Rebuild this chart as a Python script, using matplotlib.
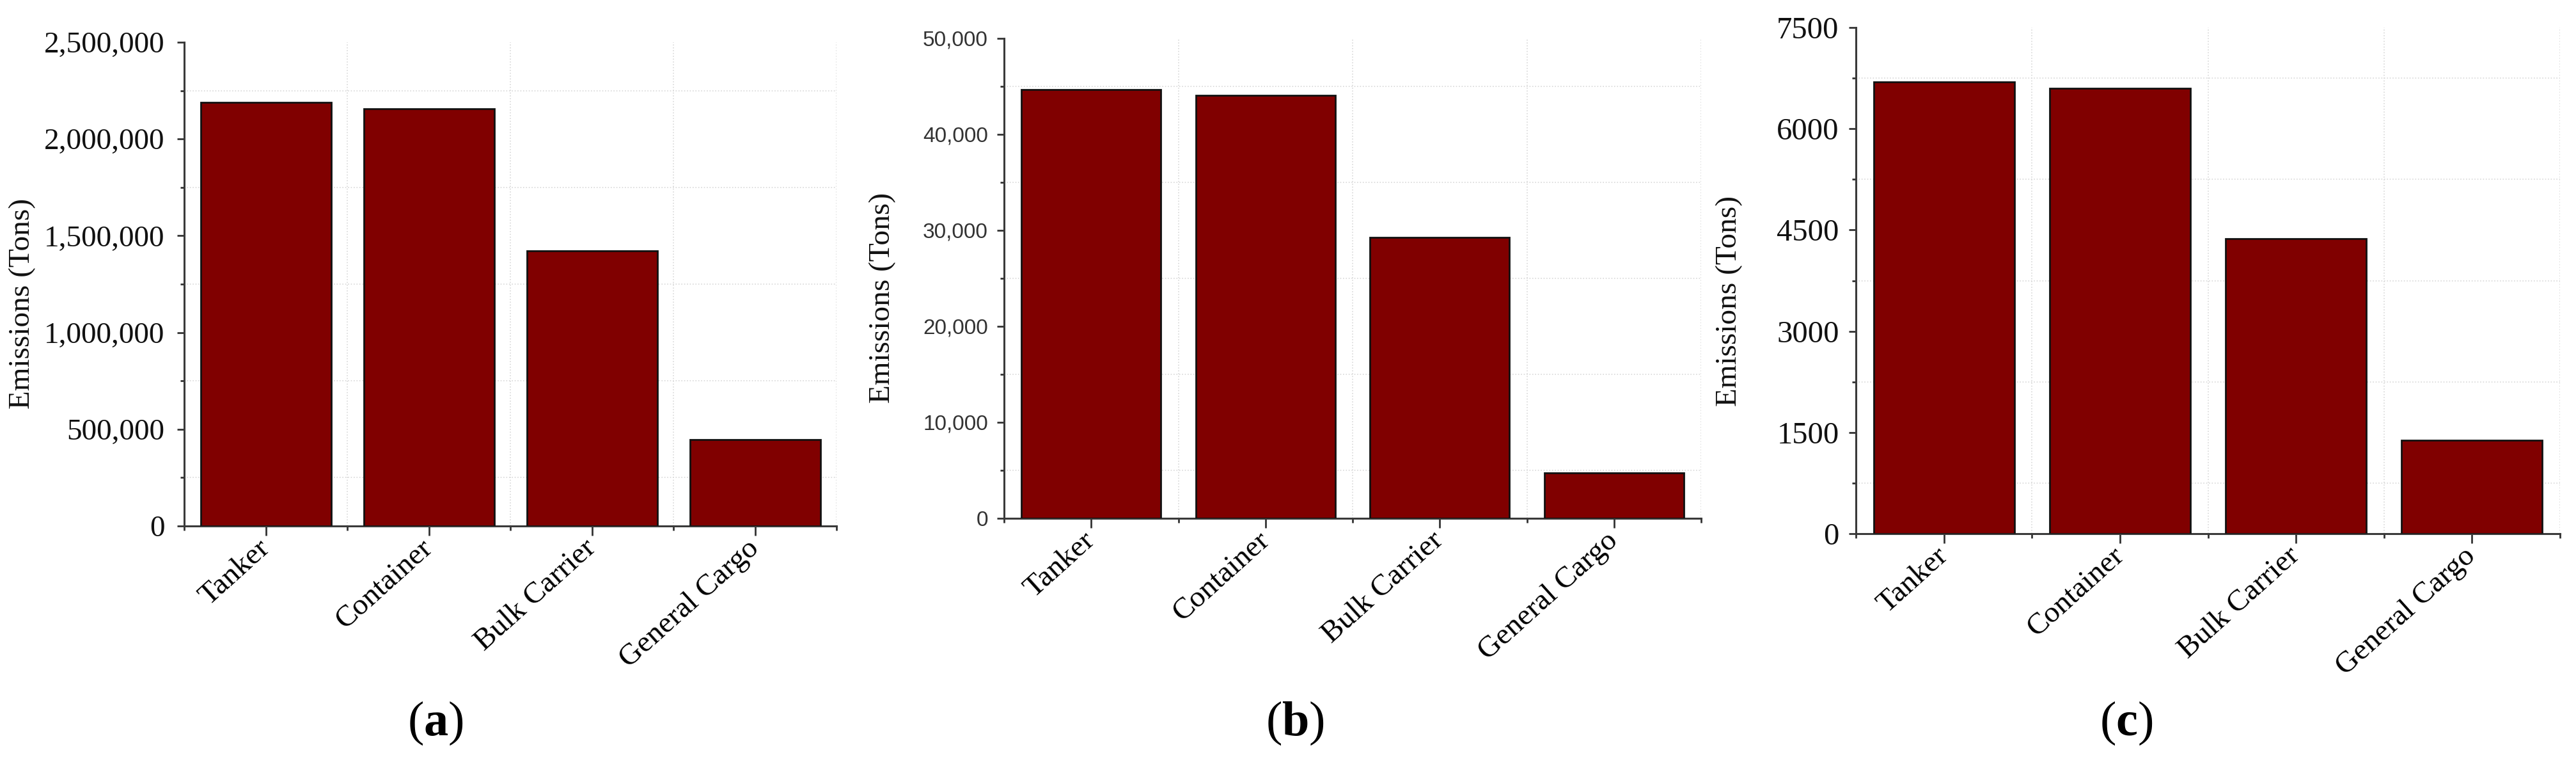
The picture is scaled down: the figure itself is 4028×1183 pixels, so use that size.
import matplotlib
matplotlib.use("Agg")
import matplotlib.pyplot as plt
from matplotlib.ticker import MultipleLocator, FuncFormatter

# ---------------------------データ--------------------------- #
categories = ["Tanker", "Container", "Bulk Carrier", "General Cargo"]
emissions_a = [2190000, 2155000, 1422000, 447000]
emissions_b = [44700, 44100, 29250, 4720]
emissions_c = [6690, 6600, 4370, 1385]
panel_labels = ["a", "b", "c"]

plt.rcParams["font.family"] = ["Liberation Serif", "DejaVu Serif"]
plt.rcParams["mathtext.fontset"] = "custom"
plt.rcParams["mathtext.rm"] = "Liberation Serif"
plt.rcParams["mathtext.bf"] = "Liberation Serif:bold"

W, H = 4028, 1183
fig = plt.figure(figsize=(W / 100, H / 100), dpi=100)

# axes boxes in pixels: left, zero-line y, width, height
boxes = [(288, 822, 1020, 756), (1570, 810, 1090, 750), (2902, 834, 1101, 791)]
ylims = [2500000, 50000, 7500]
steps = [500000, 10000, 1500]
ytick_fmt = ["{:,.0f}", "{:,.0f}", "{:.0f}"]
ytick_font = [("Liberation Serif", 34, "#111111", 14),
              ("Liberation Sans", 24, "#333333", 10),
              ("Liberation Serif", 35, "#111111", 11)]
ylabel_x = [-0.2275, -0.155, -0.161]
label_x = [681, 2025, 3325]
series = [emissions_a, emissions_b, emissions_c]

for i, vals in enumerate(series):
    l, z, w, h = boxes[i]
    ax = fig.add_axes([l / W, 1 - z / H, w / W, h / H])
    x = list(range(1, len(categories) + 1))
    ax.bar(x, vals, width=0.8, color="#800000", edgecolor="#111111",
           linewidth=2.0, zorder=3)
    ax.set_xlim(0.5, 4.5)
    ax.set_ylim(0, ylims[i])

    ax.set_xticks(x)
    ax.set_xticklabels(categories, rotation=42, ha="right", va="center",
                       rotation_mode="anchor", fontsize=34)
    ax.set_xticks([0.5, 1.5, 2.5, 3.5, 4.5], minor=True)
    ax.yaxis.set_major_locator(MultipleLocator(steps[i]))
    ax.yaxis.set_minor_locator(MultipleLocator(steps[i] / 2))
    fmt = ytick_fmt[i]
    ax.yaxis.set_major_formatter(FuncFormatter(lambda v, p, f=fmt: f.format(v)))
    fam, fs, col, pad = ytick_font[i]
    for t in ax.get_yticklabels():
        t.set_fontfamily(fam)
        t.set_fontsize(fs)
        t.set_color(col)

    ax.tick_params(axis="x", which="major", length=11, width=2, color="#333333",
                   pad=10)
    ax.tick_params(axis="x", which="minor", length=5, width=2, color="#333333")
    ax.tick_params(axis="y", which="major", length=8, width=2, color="#333333",
                   pad=pad)
    ax.tick_params(axis="y", which="minor", length=4, width=2, color="#333333")

    for s in ["top", "right"]:
        ax.spines[s].set_visible(False)
    for s in ["left", "bottom"]:
        ax.spines[s].set_linewidth(2.2)
        ax.spines[s].set_color("#3a3a3a")

    ax.grid(which="minor", color="#d8d8d8", linestyle=":", linewidth=1.2)
    ax.grid(which="major", visible=False)
    ax.set_axisbelow(True)

    ax.set_ylabel("Emissions (Tons)", fontsize=34, color="#111111")
    ax.yaxis.set_label_coords(ylabel_x[i], 0.46)

    fig.text(label_x[i] / W, 1 - 1130 / H,
             r"($\mathbf{" + panel_labels[i] + r"}$)",
             fontsize=55, ha="center", va="center", color="black")

plt.savefig("out.png", dpi=100)
